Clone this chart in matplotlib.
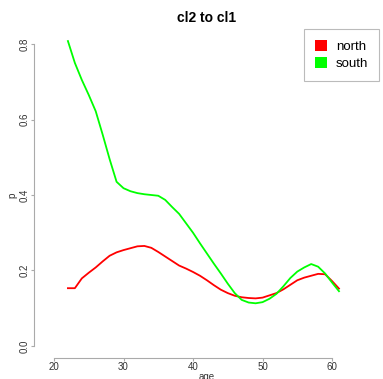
import matplotlib
matplotlib.use("Agg")
import matplotlib.pyplot as plt
from matplotlib.patches import Patch

plt.rcParams['font.family'] = ['Liberation Sans', 'DejaVu Sans']

age = list(range(22, 62))
north = [0.153, 0.153, 0.179, 0.194, 0.208, 0.224, 0.239, 0.248, 0.254, 0.259,
         0.264, 0.265, 0.260, 0.249, 0.237, 0.225, 0.213, 0.205, 0.196, 0.186,
         0.174, 0.161, 0.149, 0.140, 0.133, 0.129, 0.127, 0.126, 0.128, 0.134,
         0.140, 0.150, 0.162, 0.174, 0.181, 0.186, 0.191, 0.190, 0.172, 0.152]
south = [0.808, 0.750, 0.705, 0.665, 0.622, 0.560, 0.495, 0.435, 0.418, 0.410,
         0.405, 0.402, 0.400, 0.398, 0.387, 0.368, 0.350, 0.325, 0.300, 0.272,
         0.245, 0.218, 0.192, 0.165, 0.140, 0.122, 0.115, 0.113, 0.116, 0.125,
         0.138, 0.158, 0.180, 0.197, 0.208, 0.217, 0.210, 0.192, 0.168, 0.145]
xticks = [20, 30, 40, 50, 60]
yticks = [0.0, 0.2, 0.4, 0.6, 0.8]
title = "cl2 to cl1"
series_names = ["north", "south"]
colors = ["#ff0000", "#00ff00"]

W, H = 383, 379
fig = plt.figure(figsize=(W / 100, H / 100), dpi=100)
ax = fig.add_axes([34 / W, 1 - 358 / H, 346 / W, 326 / H])

ax.plot(age, north, color=colors[0], lw=1.3)
ax.plot(age, south, color=colors[1], lw=1.3)

ax.set_xlim(17.12, 66.9)
ax.set_ylim(-0.032, 0.832)

for s in ['top', 'right']:
    ax.spines[s].set_visible(False)
for s in ['left', 'bottom']:
    ax.spines[s].set_color('#aaaaaa')
    ax.spines[s].set_linewidth(0.8)
ax.spines['bottom'].set_bounds(20, 60)
ax.spines['left'].set_bounds(0.0, 0.8)

ax.set_xticks(xticks)
ax.set_xticklabels([str(v) for v in xticks])
ax.set_yticks(yticks)
ax.set_yticklabels([f"{v:.1f}" for v in yticks], rotation=90, va='center')
ax.tick_params(axis='both', colors='#aaaaaa', labelcolor='#333333',
               labelsize=7, length=2.5, width=0.8, pad=0.5)

ax.set_xlabel("age", fontsize=7, color='#333333', labelpad=0)
ax.set_ylabel("p", fontsize=7, color='#333333', labelpad=1.5)

fig.text(207 / W, 1 - 18 / H, title, ha='center', va='center',
         fontsize=10, fontweight='bold')

handles = [Patch(facecolor=c, edgecolor='none') for c in colors]
leg = fig.legend(handles, series_names, loc='upper right',
                 bbox_to_anchor=(379 / W, 1 - 29 / H), fontsize=9.5,
                 frameon=True, fancybox=False, handlelength=0.9,
                 handleheight=0.9, handletextpad=0.7, borderpad=0.8,
                 labelspacing=0.35, borderaxespad=0)
leg.get_frame().set_edgecolor('#aaaaaa')
leg.get_frame().set_linewidth(0.8)

fig.savefig("out.png", dpi=100)
